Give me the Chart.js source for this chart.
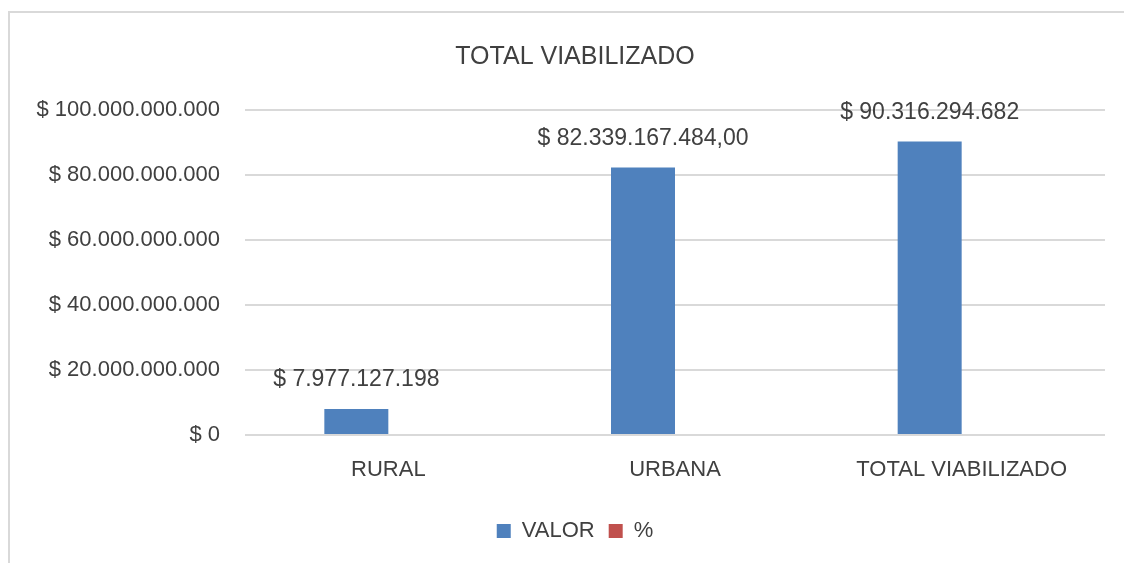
<!DOCTYPE html>
<html lang="es">
<head>
    <meta charset="UTF-8">
    <title>Total viabilizado</title>
    <script src="https://cdn.jsdelivr.net/npm/chart.js"></script>
    <style>
        body {
            margin: 0;
            padding: 0;
            background-color: #fff;
        }
        .marco {
            position: absolute;
            left: 8px;
            top: 11px;
            width: 1114px;
            height: 550px;
            border-left: 2px solid #d9d9d9;
            border-top: 2px solid #d9d9d9;
        }
    </style>
</head>
<body>
    <div class="marco">
        <canvas id="grafico" width="1114" height="550"></canvas>
    </div>
    <script>
        const categorias = ['RURAL', 'URBANA', 'TOTAL VIABILIZADO'];
        const valores = [7977127198, 82339167484, 90316294682];
        const porcentajes = [0.0883, 0.9117, 1];
        const etiquetasValor = ['$ 7.977.127.198', '$ 82.339.167.484,00', '$ 90.316.294.682'];

        const fuente = "'Liberation Sans', Arial, sans-serif";
        const gris = '#404040';
        const colores = ['#4f81bd', '#c0504d'];

        function formatoPesos(v) {
            return '$ ' + Math.round(v).toString().replace(/\B(?=(\d{3})+(?!\d))/g, '.');
        }

        // etiquetas encima de las barras de VALOR
        const etiquetas = {
            id: 'etiquetas',
            afterDatasetsDraw(chart) {
                const ctx = chart.ctx;
                const meta = chart.getDatasetMeta(0);
                ctx.save();
                ctx.font = '23px ' + fuente;
                ctx.fillStyle = gris;
                ctx.textAlign = 'center';
                ctx.textBaseline = 'middle';
                meta.data.forEach((barra, i) => {
                    ctx.fillText(etiquetasValor[i], barra.x, barra.y - 29);
                });
                ctx.restore();
            }
        };

        new Chart(document.getElementById('grafico').getContext('2d'), {
            type: 'bar',
            data: {
                labels: categorias,
                datasets: [{
                    label: 'VALOR',
                    data: valores,
                    backgroundColor: colores[0],
                    barPercentage: 1,
                    categoryPercentage: 0.4465
                }, {
                    label: '%',
                    data: porcentajes,
                    // los % son tan pequeños que no se ven frente a los valores
                    backgroundColor: 'rgba(192,80,77,0)',
                    inflateAmount: 0,
                    barPercentage: 1,
                    categoryPercentage: 0.4465
                }]
            },
            plugins: [etiquetas],
            options: {
                responsive: false,
                animation: false,
                layout: {
                    padding: { left: 16, right: 0, top: 0, bottom: 11 }
                },
                plugins: {
                    title: {
                        display: true,
                        text: 'TOTAL VIABILIZADO',
                        color: gris,
                        font: { family: fuente, size: 25, weight: 'normal' },
                        padding: { top: 29, bottom: 38 }
                    },
                    legend: {
                        position: 'bottom',
                        labels: {
                            color: gris,
                            font: { family: fuente, size: 22 },
                            boxWidth: 14,
                            boxHeight: 14,
                            padding: 14,
                            generateLabels(chart) {
                                const items = Chart.defaults.plugins.legend.labels.generateLabels(chart);
                                items.forEach((it, i) => {
                                    it.fillStyle = colores[i];
                                    it.strokeStyle = colores[i];
                                    it.lineWidth = 0;
                                });
                                return items;
                            }
                        }
                    },
                    tooltip: { enabled: false }
                },
                scales: {
                    x: {
                        afterFit(scale) { scale.height = 71; },
                        grid: { display: false },
                        border: { display: false },
                        ticks: {
                            color: gris,
                            font: { family: fuente, size: 22 },
                            padding: 14,
                            maxRotation: 0
                        }
                    },
                    y: {
                        min: 0,
                        max: 100000000000,
                        afterFit(scale) { scale.width = 219; },
                        grid: { color: '#d9d9d9', lineWidth: 2, drawTicks: false },
                        border: { display: false },
                        ticks: {
                            stepSize: 20000000000,
                            color: gris,
                            font: { family: fuente, size: 22 },
                            padding: 25,
                            callback: v => formatoPesos(v)
                        }
                    },
                    margen: {
                        position: 'right',
                        afterFit(scale) { scale.width = 19; },
                        grid: { display: false },
                        border: { display: false },
                        ticks: { display: false }
                    }
                }
            }
        });
    </script>
</body>
</html>
